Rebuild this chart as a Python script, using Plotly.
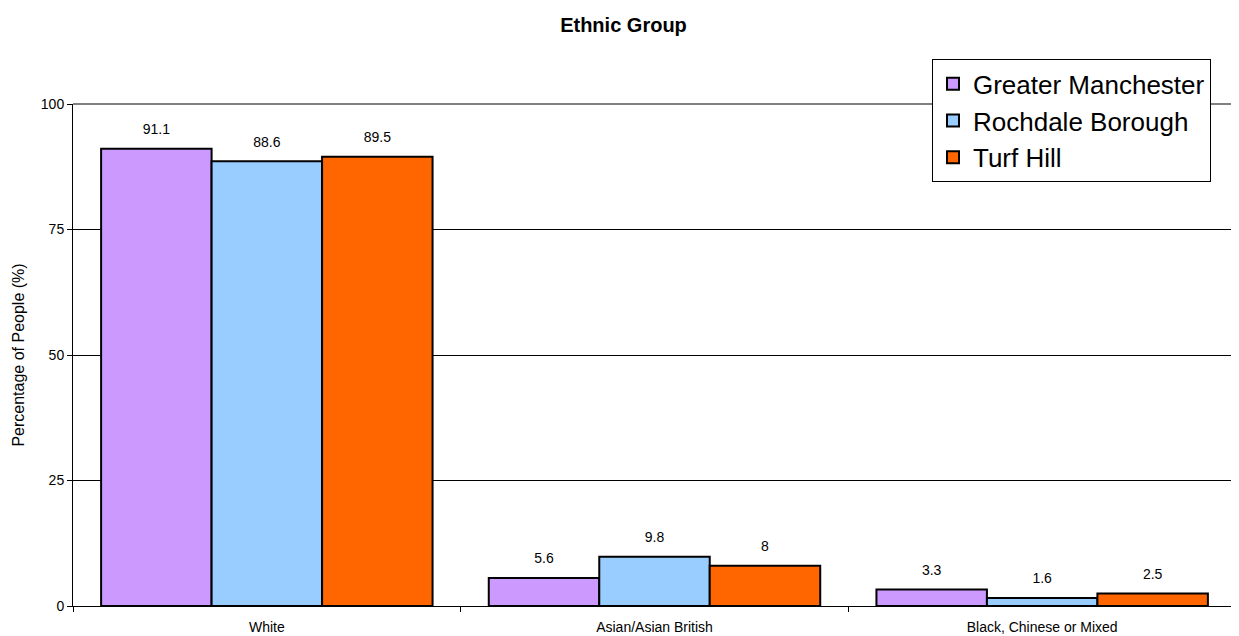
import plotly.graph_objects as go

categories = ["White", "Asian/Asian British", "Black, Chinese or Mixed"]
greater_manchester = [91.1, 5.6, 3.3]
rochdale_borough = [88.6, 9.8, 1.6]
turf_hill = [89.5, 8, 2.5]
series_names = ["Greater Manchester", "Rochdale Borough", "Turf Hill"]
colors = ["#CC99FF", "#99CCFF", "#FF6600"]
y_ticks = [0, 25, 50, 75, 100]

FONT = "Arial, Liberation Sans, sans-serif"

fig = go.Figure()
series = [greater_manchester, rochdale_borough, turf_hill]
for i, (name, vals, col) in enumerate(zip(series_names, series, colors)):
    fig.add_trace(go.Bar(
        x=categories, y=vals, name=name, offsetgroup=str(i),
        marker=dict(color=col, line=dict(color="black", width=2)),
        hoverinfo="x+y+name",
    ))
for i, (name, vals) in enumerate(zip(series_names, series)):
    fig.add_trace(go.Scatter(
        x=categories, y=vals, name=name, offsetgroup=str(i),
        mode="markers+text", text=[f"{v:g}" for v in vals],
        textposition="top center",
        textfont=dict(family=FONT, size=14, color="black"),
        marker=dict(size=16, opacity=0), showlegend=False,
        hoverinfo="skip", cliponaxis=False,
    ))

fig.update_layout(
    width=1231, height=628,
    paper_bgcolor="white", plot_bgcolor="white",
    margin=dict(l=65, r=3, t=96, b=30),
    barmode="group", bargap=0.145, bargroupgap=0,
    scattermode="group", scattergap=0.145,
    font=dict(family=FONT, color="black"),
    title=dict(text="<b>Ethnic Group</b>", x=0.5, xanchor="center", y=0.973, yanchor="middle",
               font=dict(family=FONT, size=20, color="black")),
    showlegend=True,
    legend=dict(x=0.7386, y=1.089, xanchor="left", yanchor="top",
                bordercolor="black", borderwidth=1, bgcolor="white",
                font=dict(family=FONT, size=26, color="black"),
                tracegroupgap=0),
    xaxis=dict(showline=True, linecolor="black", linewidth=1,
               tickson="boundaries", ticks="outside", ticklen=5, tickcolor="black",
               ticklabelstandoff=8, automargin=False,
               tickfont=dict(family=FONT, size=14), showgrid=False),
    yaxis=dict(range=[0, 100], tickvals=y_ticks, showline=True, linecolor="black", linewidth=1,
               ticks="outside", ticklen=5, tickcolor="black",
               showgrid=True, gridcolor="black", gridwidth=1,
               tickfont=dict(family=FONT, size=14),
               title=dict(text="Percentage of People (%)", font=dict(family=FONT, size=16), standoff=12),
               zeroline=False),
)
# gray top/right frame
fig.add_shape(type="line", xref="paper", yref="paper", x0=0, x1=1, y0=1, y1=1,
              line=dict(color="#808080", width=2))
fig.add_shape(type="line", xref="paper", yref="paper", x0=1, x1=1, y0=0, y1=1,
              line=dict(color="#808080", width=2))

fig.write_html("out.html")
